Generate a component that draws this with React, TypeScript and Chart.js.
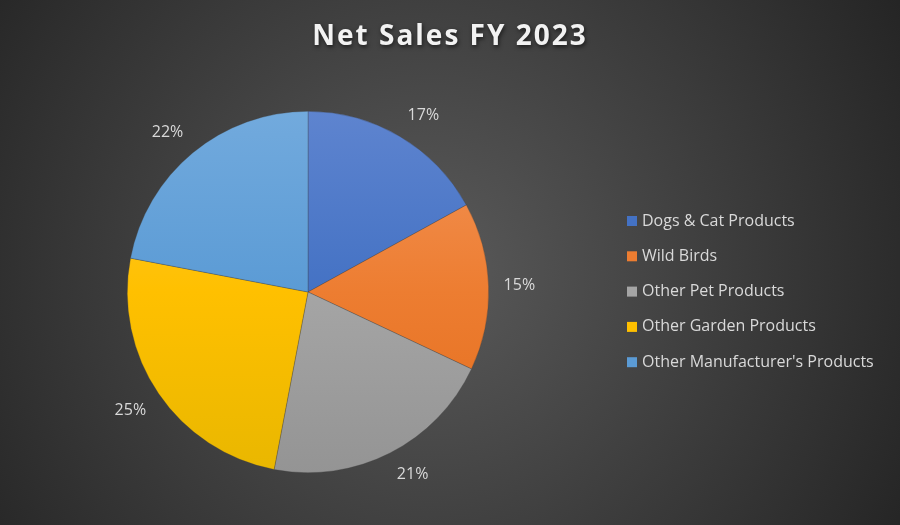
import React, { useEffect, useRef } from "react";
import { Chart, registerables } from "chart.js";

Chart.register(...registerables);

const TITLE = "Net Sales FY 2023";
const categories = [
  "Dogs & Cat Products",
  "Wild Birds",
  "Other Pet Products",
  "Other Garden Products",
  "Other Manufacturer's Products",
];
const shares = [17, 15, 21, 25, 22];
const topColors = ["#5E84CF", "#F3955A", "#B2B2B2", "#FFC93A", "#72AADD"];
const baseColors = ["#4472C4", "#ED7D31", "#A5A5A5", "#FFC000", "#5B9BD5"];
const bottomColors = ["#2E5DB8", "#E36D1C", "#949494", "#E9B700", "#4186C6"];

const clamp = (v: number) => Math.max(-1, Math.min(1, v));

const bgPlugin = {
  id: "bgPlugin",
  beforeDraw(chart: any) {
    const { ctx, width, height } = chart;
    ctx.save();
    const g = ctx.createRadialGradient(430, 270, 0, 430, 270, 560);
    g.addColorStop(0, "#5a5a5a");
    g.addColorStop(1, "#232323");
    ctx.fillStyle = g;
    ctx.fillRect(0, 0, width, height);
    ctx.restore();
  },
  afterDraw(chart: any) {
    const { ctx } = chart;
    ctx.save();
    // title
    ctx.font = "bold 28px 'Open Sans', sans-serif";
    (ctx as any).letterSpacing = "2px";
    ctx.textAlign = "center";
    ctx.textBaseline = "middle";
    ctx.shadowColor = "rgba(0,0,0,0.6)";
    ctx.shadowBlur = 4;
    ctx.shadowOffsetX = 1;
    ctx.shadowOffsetY = 2;
    ctx.fillStyle = "#f2f2f2";
    ctx.fillText(TITLE, 450, 37);
    ctx.shadowColor = "transparent";
    (ctx as any).letterSpacing = "0px";

    // percentage labels (outside end)
    const meta = chart.getDatasetMeta(0);
    ctx.font = "16px 'Open Sans', sans-serif";
    ctx.fillStyle = "#d9d9d9";
    meta.data.forEach((arc: any, i: number) => {
      const txt = shares[i] + "%";
      const hw = ctx.measureText(txt).width / 2;
      const hh = 8.5;
      const mid = (arc.startAngle + arc.endAngle) / 2;
      const ux = Math.cos(mid);
      const uy = Math.sin(mid);
      const r = arc.outerRadius + 15;
      const x = arc.x + ux * r + hw * clamp(ux * 2.5);
      const y = arc.y + uy * r + hh * clamp(uy * 2.5);
      ctx.fillText(txt, x, y);
    });

    // legend
    ctx.font = "16px 'Open Sans', sans-serif";
    ctx.textAlign = "left";
    categories.forEach((c, i) => {
      const y = 221 + i * 35.3;
      ctx.fillStyle = baseColors[i];
      ctx.fillRect(627, y - 5, 10, 10);
      ctx.fillStyle = "#d9d9d9";
      ctx.fillText(c, 642, y);
    });
    ctx.restore();
  },
};

export default function App() {
  const ref = useRef<HTMLCanvasElement>(null);
  useEffect(() => {
    document.body.style.margin = "0";
    const chart = new Chart(ref.current!, {
      type: "pie",
      data: {
        labels: categories,
        datasets: [
          {
            data: shares,
            backgroundColor: (c: any) => {
              const ch = c.chart;
              const a = ch.chartArea;
              const i = c.dataIndex;
              if (!a) return baseColors[i];
              const g = ch.ctx.createLinearGradient(0, a.top, 0, a.bottom);
              g.addColorStop(0, topColors[i]);
              g.addColorStop(0.5, baseColors[i]);
              g.addColorStop(1, bottomColors[i]);
              return g;
            },
            borderColor: "rgba(60,60,60,0.5)",
            borderWidth: 0.6,
          },
        ],
      },
      options: {
        animation: false,
        responsive: false,
        maintainAspectRatio: false,
        layout: { padding: { left: 127, right: 411, top: 111, bottom: 52 } },
        plugins: {
          legend: { display: false },
          title: { display: false },
          tooltip: { enabled: false },
        },
      },
      plugins: [bgPlugin],
    });
    return () => chart.destroy();
  }, []);
  return (
    <div style={{ position: "absolute", left: 0, top: 0, width: 900, height: 525 }}>
      <canvas ref={ref} width={900} height={525} style={{ width: 900, height: 525 }} />
    </div>
  );
}
